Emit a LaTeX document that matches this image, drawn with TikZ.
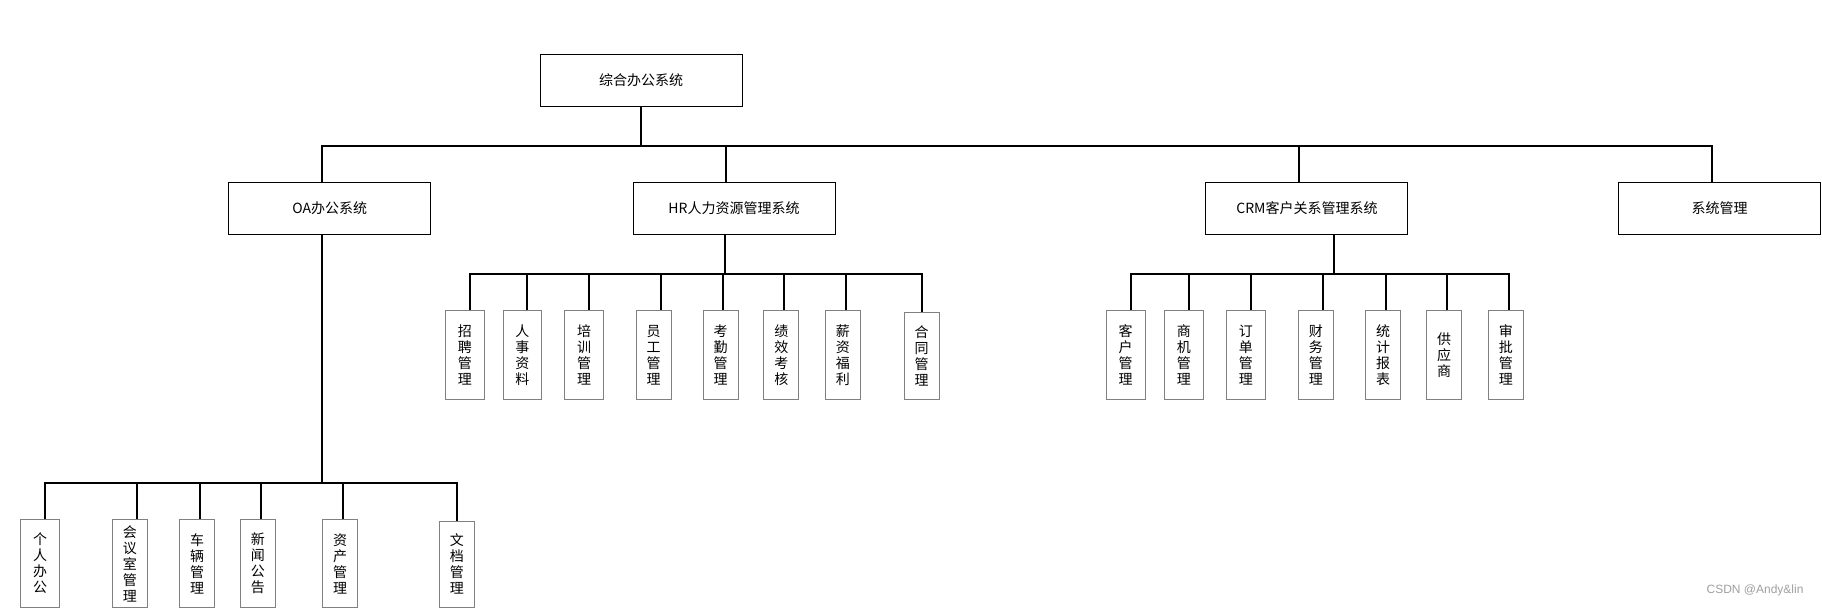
\documentclass[tikz,border=0pt]{standalone}
\usepackage{fontspec}
\setmainfont{Noto Sans CJK SC}
\newfontfamily\markfont{Liberation Sans}

\begin{document}
\begin{tikzpicture}[x=1pt,y=-1pt,
  topbox/.style={draw,line width=1pt,minimum width=202pt,minimum height=52pt,inner sep=0pt,font=\fontsize{14}{16}\selectfont},
  leafbox/.style={draw=gray,line width=1pt,minimum width=35pt,minimum height=88.3pt,inner sep=0pt,align=center,font=\fontsize{14}{16}\selectfont},
  wideleaf/.style={leafbox,minimum width=38.7pt},
  bus/.style={line width=2pt}]
\useasboundingbox (0,0) rectangle (1822,609);

\node[topbox] (root) at (641,80.3) {综合办公系统};
\node[topbox] (oa) at (329.8,208.3) {OA办公系统};
\node[topbox] (hr) at (734,208.3) {HR人力资源管理系统};
\node[topbox] (crm) at (1306.9,208.3) {CRM客户关系管理系统};
\node[topbox] (sys) at (1719.7,208.3) {系统管理};

\coordinate (busL) at (322,146);
\coordinate (busR) at (1712,146);
\draw[bus] (root.south) -- (root.south |- busL);
\draw[bus] (oa.north -| busL) -- (busL) -- (busR) -- (sys.north -| busR);
\draw[bus] (busL -| 726,0) -- (hr.north -| 726,0);
\draw[bus] (busL -| 1299,0) -- (crm.north -| 1299,0);

\node[wideleaf] (zpgl) at (464.85,354.85) {招\\聘\\管\\理};
\node[wideleaf] (rszl) at (522.4,354.85) {人\\事\\资\\料};
\node[wideleaf] (pxgl) at (584.1,354.85) {培\\训\\管\\理};
\node[leafbox] (yggl) at (653.7,354.85) {员\\工\\管\\理};
\node[leafbox] (kqgl) at (720.55,354.85) {考\\勤\\管\\理};
\node[leafbox] (jxkh) at (781.25,354.85) {绩\\效\\考\\核};
\node[leafbox] (xzfl) at (842.9,354.85) {薪\\资\\福\\利};
\node[leafbox,minimum height=86.7pt] (htgl) at (921.7,355.65) {合\\同\\管\\理};

\coordinate (hrL) at (470,274);
\coordinate (hrR) at (922,274);
\draw[bus] (hr.south -| 725,0) -- (hrL -| 725,0);
\draw[bus] (zpgl.north -| hrL) -- (hrL) -- (hrR) -- (htgl.north -| hrR);
\draw[bus] (hrL -| 527,0) -- (rszl.north -| 527,0);
\draw[bus] (hrL -| 589,0) -- (pxgl.north -| 589,0);
\draw[bus] (hrL -| 661,0) -- (yggl.north -| 661,0);
\draw[bus] (hrL -| 723,0) -- (kqgl.north -| 723,0);
\draw[bus] (hrL -| 784,0) -- (jxkh.north -| 784,0);
\draw[bus] (hrL -| 846,0) -- (xzfl.north -| 846,0);

\node[wideleaf] (khgl) at (1125.65,354.85) {客\\户\\管\\理};
\node[wideleaf] (sjgl) at (1183.8,354.85) {商\\机\\管\\理};
\node[wideleaf] (ddgl) at (1245.8,354.85) {订\\单\\管\\理};
\node[leafbox] (cwgl) at (1315.8,354.85) {财\\务\\管\\理};
\node[leafbox] (tjbb) at (1383,354.85) {统\\计\\报\\表};
\node[leafbox] (gys) at (1444,354.85) {供\\应\\商};
\node[leafbox] (spgl) at (1505.8,354.85) {审\\批\\管\\理};

\coordinate (crmL) at (1131,274);
\coordinate (crmR) at (1509,274);
\draw[bus] (crm.south -| 1334,0) -- (crmL -| 1334,0);
\draw[bus] (khgl.north -| crmL) -- (crmL) -- (crmR) -- (spgl.north -| crmR);
\draw[bus] (crmL -| 1189,0) -- (sjgl.north -| 1189,0);
\draw[bus] (crmL -| 1251,0) -- (ddgl.north -| 1251,0);
\draw[bus] (crmL -| 1323,0) -- (cwgl.north -| 1323,0);
\draw[bus] (crmL -| 1386,0) -- (tjbb.north -| 1386,0);
\draw[bus] (crmL -| 1447,0) -- (gys.north -| 1447,0);

\node[wideleaf] (grbg) at (40,563.5) {个\\人\\办\\公};
\node[leafbox,minimum width=34.3pt] (hysgl) at (129.85,563.5) {会\\议\\室\\管\\理};
\node[leafbox] (clgl) at (197.15,563.5) {车\\辆\\管\\理};
\node[leafbox] (xwgg) at (257.85,563.5) {新\\闻\\公\\告};
\node[leafbox] (zcgl) at (340,563.5) {资\\产\\管\\理};
\node[leafbox,minimum height=86.7pt] (wdgl) at (456.8,564.35) {文\\档\\管\\理};

\coordinate (oaL) at (45,483);
\coordinate (oaR) at (457,483);
\draw[bus] (oa.south -| busL) -- (oaL -| busL);
\draw[bus] (grbg.north -| oaL) -- (oaL) -- (oaR) -- (wdgl.north -| oaR);
\draw[bus] (oaL -| 137,0) -- (hysgl.north -| 137,0);
\draw[bus] (oaL -| 200,0) -- (clgl.north -| 200,0);
\draw[bus] (oaL -| 261,0) -- (xwgg.north -| 261,0);
\draw[bus] (oaL -| 343,0) -- (zcgl.north -| 343,0);

\node[text=gray!75,font=\markfont\fontsize{12}{14}\selectfont,anchor=east] (mark) at (1807,590) {CSDN @Andy\&lin};
\end{tikzpicture}
\end{document}
